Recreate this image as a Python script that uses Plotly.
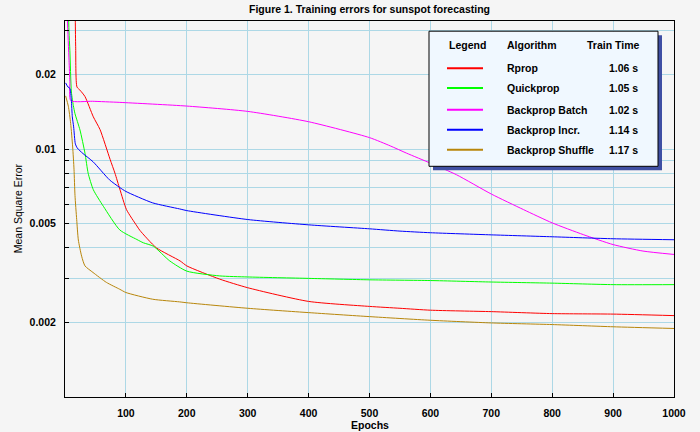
import plotly.graph_objects as go

# ---------------- data ----------------
rprop_x = [0, 16, 17.5, 19.7, 24.6, 32.8, 46.5, 57.5, 74, 82, 90, 101, 118, 123, 150, 189, 200, 254, 300, 400, 500, 550, 600, 700, 800, 900, 1000]
rprop_y = [0.3, 0.045, 0.026, 0.0178, 0.0173, 0.0163, 0.0135, 0.0120, 0.0091, 0.0080, 0.0069, 0.0057, 0.0049, 0.0047, 0.0040, 0.00354, 0.00338, 0.00299, 0.00276, 0.00243, 0.00232, 0.00228, 0.00224, 0.00221, 0.00217, 0.00216, 0.00213]

quick_x = [0, 5, 6.5, 8, 10.5, 13.7, 16.4, 24.6, 32.8, 38, 46.5, 63, 90, 118, 128.6, 145, 172, 200, 254, 300, 400, 500, 600, 700, 800, 900, 1000]
quick_y = [0.3, 0.045, 0.030, 0.025, 0.017, 0.0150, 0.0139, 0.01195, 0.00963, 0.0080, 0.00686, 0.00588, 0.00472, 0.00432, 0.00419, 0.00406, 0.00354, 0.00322, 0.00308, 0.00305, 0.00301, 0.00297, 0.00295, 0.00291, 0.00288, 0.00284, 0.00284]

batch_x = [0, 3.5, 4, 6.6, 8, 9.5, 45, 90, 200, 300, 400, 500, 534, 561, 600, 643, 700, 753, 800, 851, 900, 949, 1000]
batch_y = [0.3, 0.04, 0.033, 0.0228, 0.0187, 0.0157, 0.0156, 0.01544, 0.01492, 0.0142, 0.0129, 0.01113, 0.01031, 0.00963, 0.00878, 0.00788, 0.00659, 0.00570, 0.00504, 0.00452, 0.00412, 0.00388, 0.00376]

incr_x = [1, 5, 8, 10.4, 12, 14.2, 17, 20.2, 29.5, 46, 73, 90, 100, 144, 188, 200, 300, 400, 500, 550, 600, 700, 800, 900, 1000]
incr_y = [0.0185, 0.0178, 0.0176, 0.0158, 0.0135, 0.0123, 0.0105, 0.0101, 0.0096, 0.0089, 0.00752, 0.0070, 0.00675, 0.00607, 0.00574, 0.00565, 0.0052, 0.00495, 0.00477, 0.00467, 0.0046, 0.00451, 0.00443, 0.00435, 0.00431]

shuffle_x = [1, 5.5, 9.3, 12.6, 14.8, 16.4, 19.2, 21.9, 27.3, 32.8, 46, 68, 90, 100, 144, 188, 200, 300, 400, 500, 600, 700, 800, 900, 1000]
shuffle_y = [0.0164, 0.0149, 0.0127, 0.0102, 0.0083, 0.0065, 0.0052, 0.0043, 0.0037, 0.00338, 0.00318, 0.0029, 0.00272, 0.00264, 0.00248, 0.00242, 0.0024, 0.00228, 0.00219, 0.00211, 0.00204, 0.00199, 0.00196, 0.00192, 0.00189]

algorithms = ["Rprop", "Quickprop", "Backprop Batch", "Backprop Incr.", "Backprop Shuffle"]
train_times = ["1.06 s", "1.05 s", "1.02 s", "1.14 s", "1.17 s"]
colors = ["#ff0000", "#00ff00", "#ff00ff", "#0000ff", "#b8860b"]
series_x = [rprop_x, quick_x, batch_x, incr_x, shuffle_x]
series_y = [rprop_y, quick_y, batch_y, incr_y, shuffle_y]

x_ticks = [100, 200, 300, 400, 500, 600, 700, 800, 900, 1000]
y_grid = [0.002, 0.003, 0.004, 0.005, 0.006, 0.007, 0.008, 0.009, 0.01, 0.02, 0.03]
y_labels = {0.002: "0.002", 0.005: "0.005", 0.01: "0.01", 0.02: "0.02"}

# ---------------- layout geometry (pixels) ----------------
W, H = 700, 432
L, R, T, B = 65, 674, 20.5, 397
FONT = "Liberation Sans"
BG = "#f5f5f5"


def px(xp):
    return (xp - L) / (R - L)


def py(yp):
    return (B - yp) / (B - T)


fig = go.Figure()
for name, xs, ys, c in zip(algorithms, series_x, series_y, colors):
    fig.add_trace(go.Scatter(x=xs, y=ys, mode="lines", name=name,
                             line=dict(color=c, width=1, shape="spline", smoothing=0.6),
                             showlegend=False, hoverinfo="skip"))

fig.update_layout(
    width=W, height=H,
    margin=dict(l=L, r=W - R, t=T, b=H - B, pad=0),
    paper_bgcolor=BG, plot_bgcolor=BG,
    font=dict(family=FONT, size=11, color="#000000"),
    showlegend=False,
)

fig.update_xaxes(
    range=[0, 1000], tickvals=x_ticks, ticktext=[str(v) for v in x_ticks],
    showgrid=True, gridcolor="#add8e6", gridwidth=1, zeroline=False,
    showline=True, linecolor="#000000", linewidth=1, mirror=True,
    ticks="inside", ticklen=4, tickcolor="#000000",
    tickfont=dict(family=FONT, size=10.5, weight="bold", color="#000000"),
    ticklabelstandoff=6,
)

fig.update_yaxes(
    type="log", range=[-3, -1.483],
    tickvals=y_grid, ticktext=[y_labels.get(v, "") for v in y_grid],
    showgrid=True, gridcolor="#add8e6", gridwidth=1, zeroline=False,
    showline=True, linecolor="#000000", linewidth=1, mirror=True,
    ticks="inside", ticklen=4, tickcolor="#000000",
    tickfont=dict(family=FONT, size=10.5, weight="bold", color="#000000"),
    ticklabelstandoff=6,
)

annotations = []
annotations.append(dict(text="Figure 1. Training errors for sunspot forecasting",
                        xref="paper", yref="paper", x=px(369.5), y=py(8),
                        showarrow=False, xanchor="center", yanchor="middle",
                        font=dict(family=FONT, size=10.5, weight="bold")))
annotations.append(dict(text="Epochs", xref="paper", yref="paper",
                        x=px(369.5), y=py(425), showarrow=False,
                        xanchor="center", yanchor="middle",
                        font=dict(family=FONT, size=10.5, weight="bold")))
annotations.append(dict(text="Mean Square Error", xref="paper", yref="paper",
                        x=px(17.5), y=py(208.5), showarrow=False, textangle=-90,
                        xanchor="center", yanchor="middle",
                        font=dict(family=FONT, size=10.5)))

shapes = []
bx0, bx1, by0, by1 = 429, 658, 30.7, 166
shapes.append(dict(type="rect", xref="paper", yref="paper", layer="above",
                   x0=px(bx0 + 4), x1=px(bx1 + 4), y0=py(by0 + 4), y1=py(by1 + 4),
                   fillcolor="#3f4fa3", line=dict(width=0)))
shapes.append(dict(type="rect", xref="paper", yref="paper", layer="above",
                   x0=px(bx0), x1=px(bx1), y0=py(by0), y1=py(by1),
                   fillcolor="#f0f8ff", line=dict(color="#000000", width=1)))

hdr_y = 44.7
for txt, xx, anc in [("Legend", 447, "left"), ("Algorithm", 505, "left"), ("Train Time", 641, "right")]:
    annotations.append(dict(text=txt, xref="paper", yref="paper", x=px(xx), y=py(hdr_y),
                            showarrow=False, xanchor=anc, yanchor="middle",
                            font=dict(family=FONT, size=10.5, weight="bold")))

row_y = [67.7, 87.7, 109.3, 129.3, 149.3]
for name, tt, c, ry in zip(algorithms, train_times, colors, row_y):
    shapes.append(dict(type="line", xref="paper", yref="paper", layer="above",
                       x0=px(447), x1=px(483), y0=py(ry), y1=py(ry),
                       line=dict(color=c, width=2)))
    annotations.append(dict(text=name, xref="paper", yref="paper", x=px(505), y=py(ry),
                            showarrow=False, xanchor="left", yanchor="middle",
                            font=dict(family=FONT, size=10.5, weight="bold")))
    annotations.append(dict(text=tt, xref="paper", yref="paper", x=px(640), y=py(ry),
                            showarrow=False, xanchor="right", yanchor="middle",
                            font=dict(family=FONT, size=10.5, weight="bold")))

fig.update_layout(annotations=annotations, shapes=shapes)
fig.write_html("out.html")
